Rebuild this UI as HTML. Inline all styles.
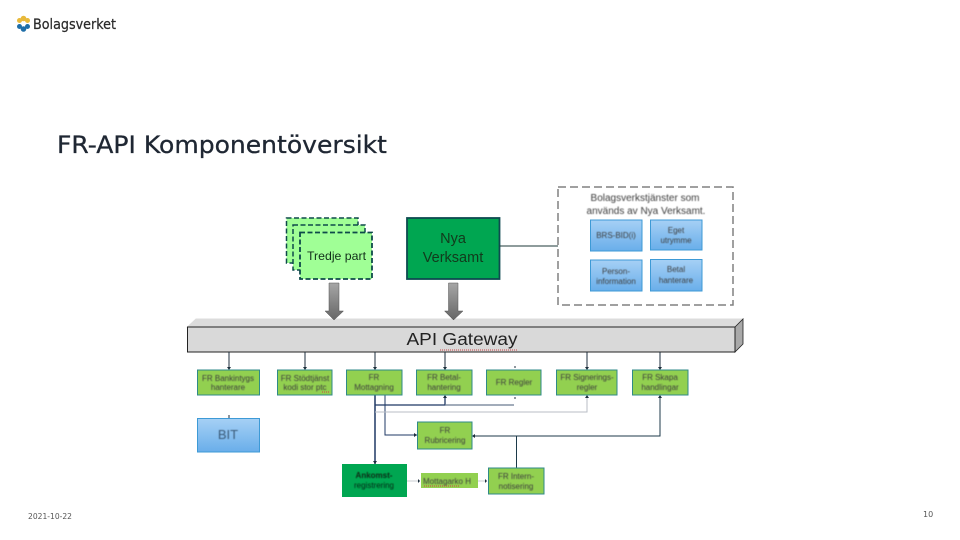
<!DOCTYPE html>
<html><head><meta charset="utf-8"><style>
html,body{margin:0;padding:0;background:#fff;width:960px;height:540px;overflow:hidden}
svg{display:block}
text{font-family:"Liberation Sans",sans-serif;fill:#222}
.s{font-size:8px;text-anchor:middle;fill:#3c3c3c;filter:url(#b)}
</style></head><body>
<svg width="960" height="540" viewBox="0 0 960 540">
<defs>
<filter id="b" x="-10%" y="-30%" width="120%" height="160%"><feGaussianBlur stdDeviation="0.4"/></filter>
<linearGradient id="blue" x1="0" y1="0" x2="0" y2="1"><stop offset="0" stop-color="#a6d0f5"/><stop offset="1" stop-color="#69aeea"/></linearGradient>
<linearGradient id="ar" x1="0" y1="0" x2="0" y2="1"><stop offset="0" stop-color="#a6a6a6"/><stop offset="1" stop-color="#666"/></linearGradient>
</defs>
<!-- logo -->
<g>
<circle cx="23.500" cy="18.500" r="2.800" fill="#e8b93a"/><circle cx="19.500" cy="20.500" r="2.500" fill="#e8b93a"/><circle cx="27.500" cy="20.500" r="2.500" fill="#e8b93a"/>
<circle cx="23.500" cy="29" r="2.800" fill="#1f6ea8"/><circle cx="19.500" cy="26.500" r="2.500" fill="#1f6ea8"/><circle cx="27.500" cy="26.500" r="2.500" fill="#1f6ea8"/>
<circle cx="23.500" cy="23.500" r="2" fill="#fff"/>
</g>
<text x="33" y="29" textLength="83" lengthAdjust="spacingAndGlyphs" style="font-family:'DejaVu Sans',sans-serif;font-size:14.500px;fill:#2b2b2b;stroke:#2b2b2b;stroke-width:.25">Bolagsverket</text>
<!-- title -->
<text x="57" y="153" textLength="330" lengthAdjust="spacingAndGlyphs" style="font-family:'DejaVu Sans',sans-serif;font-size:24px;fill:#1f2733;stroke:#1f2733;stroke-width:.3">FR-API Komponentöversikt</text>
<!-- tredje -->
<g fill="#a0ff96" stroke="#0e4a4a" stroke-width="1.500" stroke-dasharray="5 2.500">
<rect x="286.500" y="218" width="71.500" height="45"/>
<rect x="293" y="225" width="72" height="45"/>
<rect x="300" y="232.500" width="72" height="46.500" stroke-width="1.800"/>
</g>
<text x="336.500" y="260" font-size="12" text-anchor="middle" textLength="59" lengthAdjust="spacingAndGlyphs" style="fill:#12301a">Tredje part</text>
<!-- nya -->
<rect x="407" y="218" width="92.500" height="61" fill="#00a651" stroke="#0e4a50" stroke-width="1.800"/>
<text x="453" y="243" font-size="14.500" text-anchor="middle" style="fill:#123a1c">Nya</text>
<text x="453" y="262" font-size="14.500" text-anchor="middle" style="fill:#123a1c">Verksamt</text>
<line x1="499.500" y1="246" x2="558" y2="246" stroke="#1c3a3a" stroke-width="1"/>
<!-- dashed box -->
<rect x="558" y="187" width="175" height="118" fill="#fff" stroke="#808080" stroke-width="1.500" stroke-dasharray="8 4"/>
<text class="s" x="645" y="201" style="font-size:10px">Bolagsverkstjänster som</text>
<text class="s" x="646" y="214" style="font-size:10px">används av Nya Verksamt.</text>
<g fill="url(#blue)" stroke="#3d9ad6" stroke-width="1">
<rect x="590.500" y="220" width="51.500" height="31"/>
<rect x="650.500" y="220" width="51.500" height="30"/>
<rect x="590.500" y="260" width="51.500" height="31"/>
<rect x="650.500" y="259.500" width="51.500" height="31.500"/>
</g>
<text class="s" x="616" y="238">BRS-BID(i)</text>
<text class="s" x="676" y="233">Eget</text><text class="s" x="676" y="243">utrymme</text>
<text class="s" x="616" y="274">Person-</text><text class="s" x="616" y="284">information</text>
<text class="s" x="676" y="272">Betal</text><text class="s" x="676" y="283">hanterare</text>
<!-- gateway -->
<polygon points="187.500,327 196,319 743,319 735,327" fill="#dcdcdc" stroke="#dcdcdc"/>
<polygon points="735,327 743,319 743,344 735,352" fill="#a9a9a9" stroke="#222" stroke-width=".8"/>
<rect x="187.500" y="327" width="547.500" height="25" fill="#d9d9d9" stroke="#222" stroke-width="1"/>
<text x="462" y="345" font-size="17.500" text-anchor="middle" textLength="111" lengthAdjust="spacingAndGlyphs" style="fill:#222">API Gateway</text>
<path d="M440 350 h78" stroke="#c44" stroke-width="1" stroke-dasharray="1 1"/>
<!-- arrows -->
<polygon points="329,283 339,283 339,311 343.500,311 334,320 325,311 329,311" fill="url(#ar)" stroke="#555" stroke-width=".5"/>
<polygon points="448.500,283 458,283 458,311 463,311 453.500,320 444.500,311 448.500,311" fill="url(#ar)" stroke="#555" stroke-width=".5"/>
<!-- connectors -->
<g stroke="#1c2e3c" stroke-width="1" fill="none">
<path d="M229 352V370M305 352V370M375 352V370M445 352V370M587 352V370M660 352V370"/>
<path d="M515 366V368M515 397V399M229 415V418"/>
<path d="M375 395V464" stroke="#1f3864" stroke-width="1.500"/>
<path d="M385 395V435H417" stroke="#1f3864"/>
<path d="M375 405H445V396" stroke="#1f3864" stroke-width="1.300"/>
<path d="M445 405H514" stroke="#6b7a90" stroke-width="1.300"/>
<path d="M375 412H587V396" stroke="#b8bec6"/>
<path d="M472 436H660V396" stroke="#1c3a4a"/>
<path d="M516.500 436V468" stroke="#1c3a4a"/>
<path d="M407 481H420M478 481H487" stroke="#c8ccd0"/>
</g>
<g fill="#1c2e3c">
<path d="M227 367h4l-2 3zM303 367h4l-2 3zM373 367h4l-2 3zM443 367h4l-2 3zM585 367h4l-2 3zM658 367h4l-2 3z"/>
<path d="M443 398h4l-2-3zM585 398h4l-2-3zM658 398h4l-2-3z"/>
<path d="M373 461h4l-2 3zM414 433v4l3-2zM475 434v4l-3-2zM418 479v4l2-2zM485 479v4l2-2z"/>
</g>
<!-- green boxes -->
<g fill="#92d050" stroke="#2f8a88" stroke-width="1">
<rect x="197.500" y="370" width="62" height="25"/>
<rect x="277.500" y="370" width="54.500" height="25"/>
<rect x="346.500" y="370" width="55.500" height="25"/>
<rect x="416.500" y="370" width="55.500" height="25"/>
<rect x="486.500" y="370" width="54.500" height="25"/>
<rect x="556.500" y="370" width="60.500" height="25"/>
<rect x="632.500" y="370" width="55.500" height="25"/>
<rect x="417.500" y="422" width="54.500" height="27"/>
<rect x="488.500" y="468" width="55.500" height="26"/>
</g>
<rect x="197.500" y="418.500" width="62" height="33.500" fill="url(#blue)" stroke="#3d9ad6"/>
<rect x="342" y="464" width="65" height="33" fill="#00a651"/>
<rect x="421" y="473" width="57" height="15" fill="#92d050"/>
<text class="s" x="228" y="381">FR Bankintygs</text><text class="s" x="228" y="390">hanterare</text>
<text class="s" x="305" y="381">FR Stödtjänst</text><text class="s" x="305" y="390">kodi stor ptc</text>
<text class="s" x="374" y="380">FR</text><text class="s" x="374" y="390">Mottagning</text>
<text class="s" x="444" y="380">FR Betal-</text><text class="s" x="444" y="390">hantering</text>
<text class="s" x="514" y="385">FR Regler</text>
<text class="s" x="587" y="380">FR Signerings-</text><text class="s" x="587" y="390">regler</text>
<text class="s" x="660" y="380">FR Skapa</text><text class="s" x="660" y="390">handlingar</text>
<text class="s" x="228" y="439" style="font-size:13px;fill:#3a5a78">BIT</text>
<text class="s" x="445" y="433">FR</text><text class="s" x="445" y="443">Rubricering</text>
<text class="s" x="374" y="478" style="fill:#0a2a14;font-weight:bold;font-size:8px">Ankomst-</text><text class="s" x="374" y="488" style="fill:#0a2a14;font-size:8px">registrering</text>
<text class="s" x="447" y="484">Mottagarko H</text>
<text class="s" x="516" y="479">FR Intern-</text><text class="s" x="516" y="489">notisering</text>
<path d="M322 392h8M424 486h36" stroke="#c44" stroke-width="1" stroke-dasharray="1 1"/>
<!-- footer -->
<text x="28" y="519" font-size="8" textLength="44" lengthAdjust="spacingAndGlyphs" style="fill:#555;font-family:'DejaVu Sans',sans-serif">2021-10-22</text>
<text x="923" y="517" font-size="8" style="fill:#555;font-family:'DejaVu Sans',sans-serif">10</text>
</svg>
</body></html>
